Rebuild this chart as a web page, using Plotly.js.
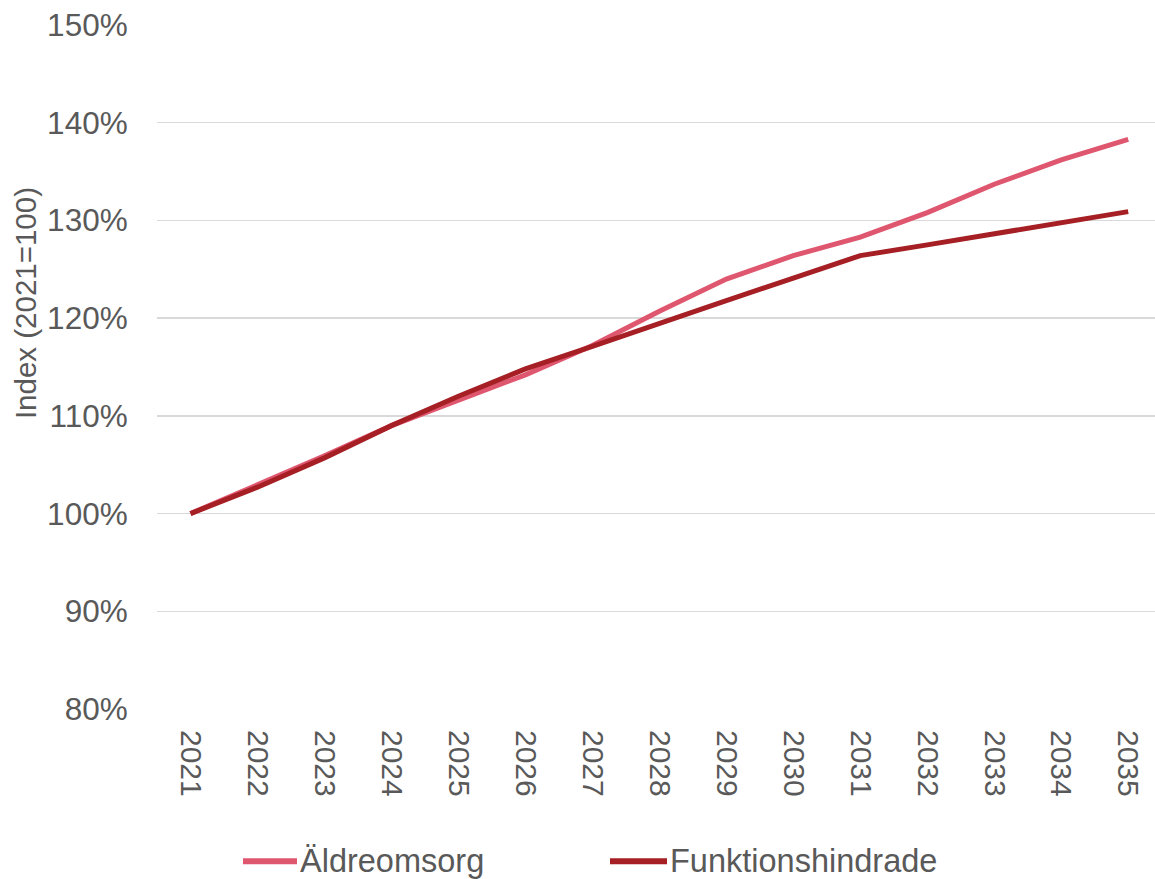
<!DOCTYPE html>
<html>
<head>
<meta charset="utf-8">
<script src="https://cdn.plot.ly/plotly-3.0.1.min.js"></script>
<style>
  html, body { margin: 0; padding: 0; background: #ffffff; }
  #chart { width: 1155px; height: 879px; }
</style>
</head>
<body>
<div id="chart"></div>
<script>
// Years on the category axis
const years = ['2021','2022','2023','2024','2025','2026','2027','2028',
               '2029','2030','2031','2032','2033','2034','2035'];

// Cost index, 2021 = 100 (%)
const aldreomsorg = [100, 102.9, 105.9, 109.0, 111.6, 114.2, 117.2, 120.7,
                     124.0, 126.4, 128.3, 130.8, 133.7, 136.2, 138.3];
const funktionshindrade = [100, 102.7, 105.7, 109.0, 112.0, 114.8, 117.1, 119.5,
                           121.8, 124.1, 126.4, 127.5, 128.6, 129.8, 130.9];

const seriesNames = ['Äldreomsorg', 'Funktionshindrade'];
const seriesColors = ['#DF566F', '#A51F24'];
const yTicks = [80, 90, 100, 110, 120, 130, 140, 150];
const yTickText = yTicks.map(v => v + '%');

const textColor = '#595959';
const font = 'Liberation Sans, Arial, sans-serif';

// Plot area geometry in pixels (used to place the legend below the axes)
const plotLeft = 157, plotWidth = 998, plotBottom = 709.5, plotHeight = 685;
const toPaperX = p => (p - plotLeft) / plotWidth;
const toPaperY = p => (plotBottom - p) / plotHeight;

const traces = [aldreomsorg, funktionshindrade].map((vals, i) => ({
  x: years, y: vals, name: seriesNames[i],
  type: 'scatter', mode: 'lines',
  line: { color: seriesColors[i], width: 5 }
}));

// Legend below the plot: a short line sample followed by the series name
const legendItems = [
  { x0: 243, x1: 297 },
  { x0: 610, x1: 667 }
];
const legendY = 862;
const shapes = legendItems.map((it, i) => ({
  type: 'line', xref: 'paper', yref: 'paper',
  x0: toPaperX(it.x0), x1: toPaperX(it.x1),
  y0: toPaperY(legendY), y1: toPaperY(legendY),
  line: { color: seriesColors[i], width: 6 }
}));
const legendLabels = legendItems.map((it, i) => ({
  text: seriesNames[i],
  xref: 'paper', yref: 'paper',
  x: toPaperX(it.x1 + 1), y: toPaperY(legendY),
  xanchor: 'left', yanchor: 'middle', showarrow: false,
  font: { family: font, size: 32.5, color: textColor }
}));

const layout = {
  width: 1155, height: 879,
  margin: { l: plotLeft, r: 0, t: 24.5, b: 879 - plotBottom, autoexpand: false },
  paper_bgcolor: '#ffffff', plot_bgcolor: '#ffffff',
  font: { family: font, size: 31, color: textColor },
  showlegend: false,
  xaxis: {
    type: 'category',
    range: [-0.5, 14.4],
    tickangle: 90,
    automargin: false,
    showgrid: false, zeroline: false, showline: false,
    ticks: 'outside', ticklen: 14, tickcolor: 'rgba(0,0,0,0)',
    tickfont: { family: font, size: 30, color: textColor }
  },
  yaxis: {
    range: [80, 150],
    automargin: false,
    tickvals: yTicks, ticktext: yTickText,
    showgrid: true, gridcolor: '#D9D9D9', gridwidth: 1.5,
    zeroline: false, showline: false,
    ticks: 'outside', ticklen: 22, tickcolor: 'rgba(0,0,0,0)',
    tickfont: { family: font, size: 31.5, color: textColor }
  },
  shapes: shapes,
  annotations: [
    {
      text: 'Index (2021=100)',
      xref: 'paper', yref: 'paper',
      x: toPaperX(25), y: toPaperY(303),
      xanchor: 'center', yanchor: 'middle',
      textangle: -90, showarrow: false,
      font: { family: font, size: 29.5, color: textColor }
    }
  ].concat(legendLabels)
};

Plotly.newPlot('chart', traces, layout, { displayModeBar: false, staticPlot: true });
</script>
</body>
</html>
